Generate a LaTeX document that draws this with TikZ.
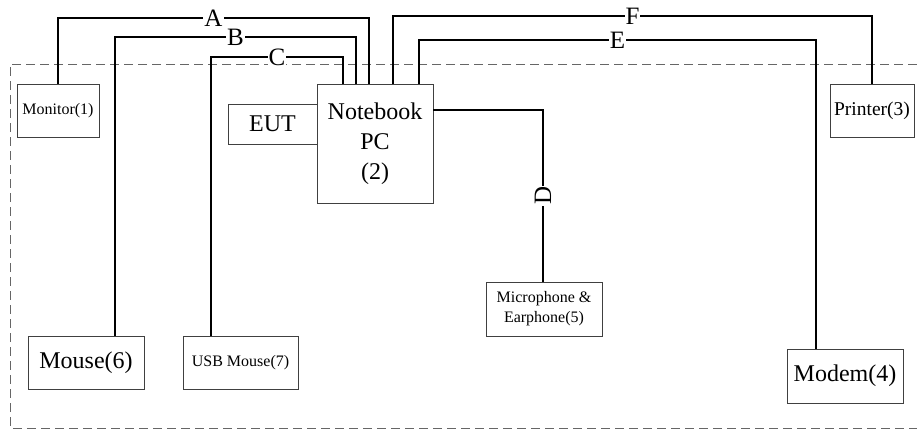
\documentclass[tikz,border=0pt]{standalone}
\usepackage{fontspec}
\setmainfont{Liberation Serif}
\begin{document}
\begin{tikzpicture}[x=1pt,y=-1pt,
 box/.style={draw=black!75, line width=0.9pt, inner sep=0pt, align=center},
 big/.style={font=\fontsize{24}{30}\selectfont},
 small/.style={font=\fontsize{16}{20}\selectfont},
 wire/.style={draw=black, line width=1.8pt},
 lab/.style={fill=white, inner sep=1pt, font=\fontsize{25}{25}\selectfont},
 frame/.style={draw=black!60, line width=1pt, dash pattern=on 9pt off 5pt}]
\useasboundingbox (0,0) rectangle (917,429);
\draw[frame] (917,64) -- (10,64) -- (10,428) -- (917,428);
% devices
\node[box, small, minimum width=82pt, minimum height=53pt] (mon) at (58,110.5) {Monitor(1)};
\node[box, big, minimum width=116pt, minimum height=119pt] (nb) at (375,143.5) {Notebook\\PC\\(2)};
\node[box, big, minimum width=89pt, minimum height=40pt] (eut) at (272.5,124) {EUT};
\node[box, font=\fontsize{19.5}{22}\selectfont, minimum width=84pt, minimum height=53pt] (prn) at (872,110.5) {Printer(3)};
\node[box, small, minimum width=116pt, minimum height=54pt] (mic) at (544,309) {Microphone \&\\Earphone(5)};
\node[box, big, minimum width=116pt, minimum height=53pt] (m6) at (86,362.5) {Mouse(6)};
\node[box, small, minimum width=115pt, minimum height=53pt] (usb) at (240.5,362.5) {USB Mouse(7)};
\node[box, big, minimum width=116pt, minimum height=54pt] (mod) at (845,376) {Modem(4)};
% corner coordinates
\coordinate (a0) at (58,18);  \coordinate (a1) at (369,18);
\coordinate (b0) at (115,37); \coordinate (b1) at (356,37);
\coordinate (c0) at (211,57); \coordinate (c1) at (343,57);
\coordinate (f0) at (393,16); \coordinate (f1) at (872,16);
\coordinate (e0) at (419,40); \coordinate (e1) at (816,40);
\coordinate (d0) at (543,110);
% cables
\draw[wire] (mon.north) -- (a0) -- node[lab]{A} (a1) -- (a1 |- nb.north);
\draw[wire] (b0 |- m6.north) -- (b0) -- node[lab]{B} (b1) -- (b1 |- nb.north);
\draw[wire] (c0 |- usb.north) -- (c0) -- node[lab]{C} (c1) -- (c1 |- nb.north);
\draw[wire] (f0 |- nb.north) -- (f0) -- node[lab]{F} (f1) -- (prn.north);
\draw[wire] (e0 |- nb.north) -- (e0) -- node[lab]{E} (e1) -- (e1 |- mod.north);
\draw[wire] (d0 -| nb.east) -- (d0) -- node[lab, rotate=90]{D} (d0 |- mic.north);
\end{tikzpicture}
\end{document}
